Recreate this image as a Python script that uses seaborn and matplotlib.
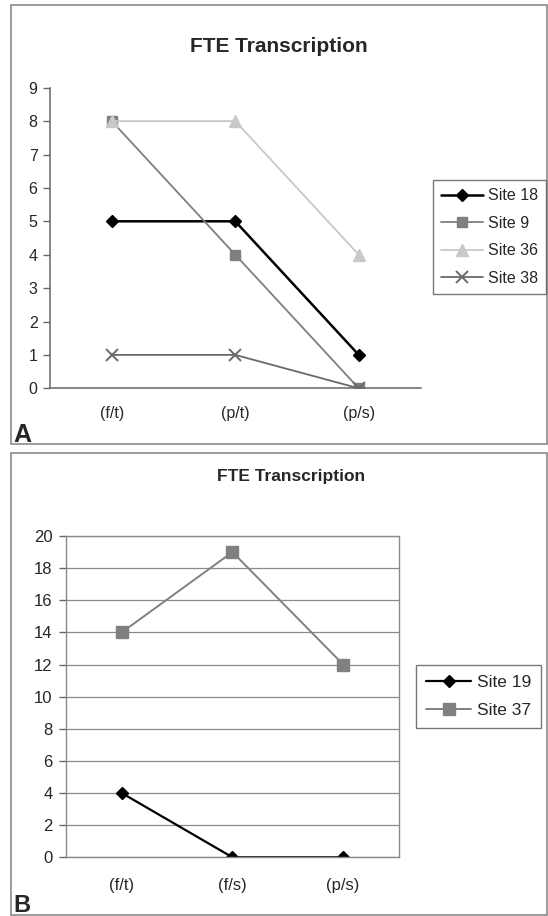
import numpy as np
import pandas as pd
import matplotlib
matplotlib.use("Agg")
import matplotlib.pyplot as plt
import seaborn as sns
from matplotlib.patches import Rectangle

# ---- data ----
cats_a = ["(f/t)", "(p/t)", "(p/s)"]
site18 = [5, 5, 1]
site9 = [8, 4, 0]
site36 = [8, 8, 4]
site38 = [1, 1, 0]
yticks_a = list(range(0, 10))

cats_b = ["(f/t)", "(f/s)", "(p/s)"]
site19 = [4, 0, 0]
site37 = [14, 19, 12]
yticks_b = list(range(0, 21, 2))

title = "FTE Transcription"

sns.set_style("white")
plt.rcParams['font.family'] = ['Liberation Sans', 'DejaVu Sans']

W, H = 548, 916
fig = plt.figure(figsize=(W / 100, H / 100), dpi=100)


def fx(px):
    return px / W


def fy(py):
    return 1 - py / H


# panel borders
for (x0, y0, x1, y1) in [(10.5, 5, 546.5, 444), (10.5, 453, 547, 915)]:
    fig.patches.append(Rectangle((fx(x0), fy(y1)), fx(x1) - fx(x0), fy(y0) - fy(y1),
                                 transform=fig.transFigure, fill=False,
                                 edgecolor="#8a8a8a", lw=1.2))


def draw(ax, cats, series, yticks):
    x = np.arange(len(cats))
    for name, vals, color, marker, ms, lw, mew in series:
        df = pd.DataFrame({"x": x, "y": vals})
        sns.lineplot(data=df, x="x", y="y", ax=ax, color=color, marker=marker,
                     markersize=ms, lw=lw, markeredgecolor=color,
                     markeredgewidth=mew, label=name)
    if ax.get_legend() is not None:
        ax.get_legend().remove()
    ax.set_xlim(-0.5, len(cats) - 0.5)
    ax.set_ylim(yticks[0], yticks[-1])
    ax.set_yticks(yticks)
    ax.set_xticks(x)
    ax.set_xticklabels(cats)
    ax.set_xticks(np.arange(len(cats) + 1) - 0.5, minor=True)
    ax.set_xlabel("")
    ax.set_ylabel("")
    ax.tick_params(axis="x", which="major", length=0)
    ax.tick_params(axis="x", which="minor", length=5, width=1, color="#666666", direction="out")
    ax.tick_params(axis="y", length=5, width=1, color="#666666", direction="out", left=True)


# ---------- Panel A ----------
axA = fig.add_axes([fx(50), fy(388.3), fx(420.5) - fx(50), fy(87.7) - fy(388.3)])
seriesA = [
    ("Site 18", site18, "#000000", "D", 6.2, 1.8, 1),
    ("Site 9", site9, "#7f7f7f", "s", 7, 1.3, 1),
    ("Site 36", site36, "#c8c8c8", "^", 8, 1.3, 1),
    ("Site 38", site38, "#6a6a6a", "x", 8, 1.3, 1.4),
]
draw(axA, cats_a, seriesA, yticks_a)
for s in ["top", "right"]:
    axA.spines[s].set_visible(False)
for s in ["left", "bottom"]:
    axA.spines[s].set_color("#666666")
    axA.spines[s].set_linewidth(1.1)
axA.tick_params(axis="y", labelsize=11.5, pad=4)
axA.tick_params(axis="x", which="major", labelsize=11.5, pad=13)
axA.grid(False)
h, l = axA.get_legend_handles_labels()
legA = fig.legend(h, l, loc="center", bbox_to_anchor=(fx(489.5), fy(237)),
                  frameon=True, fancybox=False, edgecolor="#555555", fontsize=11.5,
                  handlelength=2.6, handletextpad=0.3, labelspacing=0.78,
                  borderpad=0.5, borderaxespad=0)
legA.get_frame().set_linewidth(1.0)
fig.text(fx(278.6), fy(46.7), title, ha="center", va="center",
         fontsize=15, fontweight="bold")
fig.text(fx(13), fy(442), "A", ha="left", va="baseline", fontsize=18, fontweight="bold")

# ---------- Panel B ----------
axB = fig.add_axes([fx(66.4), fy(857.3), fx(398.5) - fx(66.4), fy(536) - fy(857.3)])
seriesB = [
    ("Site 19", site19, "#000000", "D", 6.2, 1.6, 1),
    ("Site 37", site37, "#808080", "s", 8, 1.4, 1),
]
draw(axB, cats_b, seriesB, yticks_b)
for s in axB.spines.values():
    s.set_visible(True)
    s.set_color("#8a8a8a")
    s.set_linewidth(1.0)
axB.yaxis.grid(True, color="#8a8a8a", lw=0.9)
axB.xaxis.grid(False)
axB.set_axisbelow(True)
axB.tick_params(axis="y", labelsize=12, pad=5)
axB.tick_params(axis="x", which="major", labelsize=12, pad=15)
h, l = axB.get_legend_handles_labels()
legB = fig.legend(h, l, loc="center", bbox_to_anchor=(fx(478.5), fy(696.5)),
                  frameon=True, fancybox=False, edgecolor="#555555", fontsize=12.5,
                  handlelength=2.6, handletextpad=0.3, labelspacing=0.7,
                  borderpad=0.6, borderaxespad=0)
legB.get_frame().set_linewidth(1.0)
fig.text(fx(291), fy(476.7), title, ha="center", va="center",
         fontsize=12.5, fontweight="bold")
fig.text(fx(13), fy(912), "B", ha="left", va="baseline", fontsize=17, fontweight="bold")

fig.savefig("out.png", dpi=100, facecolor="white")
